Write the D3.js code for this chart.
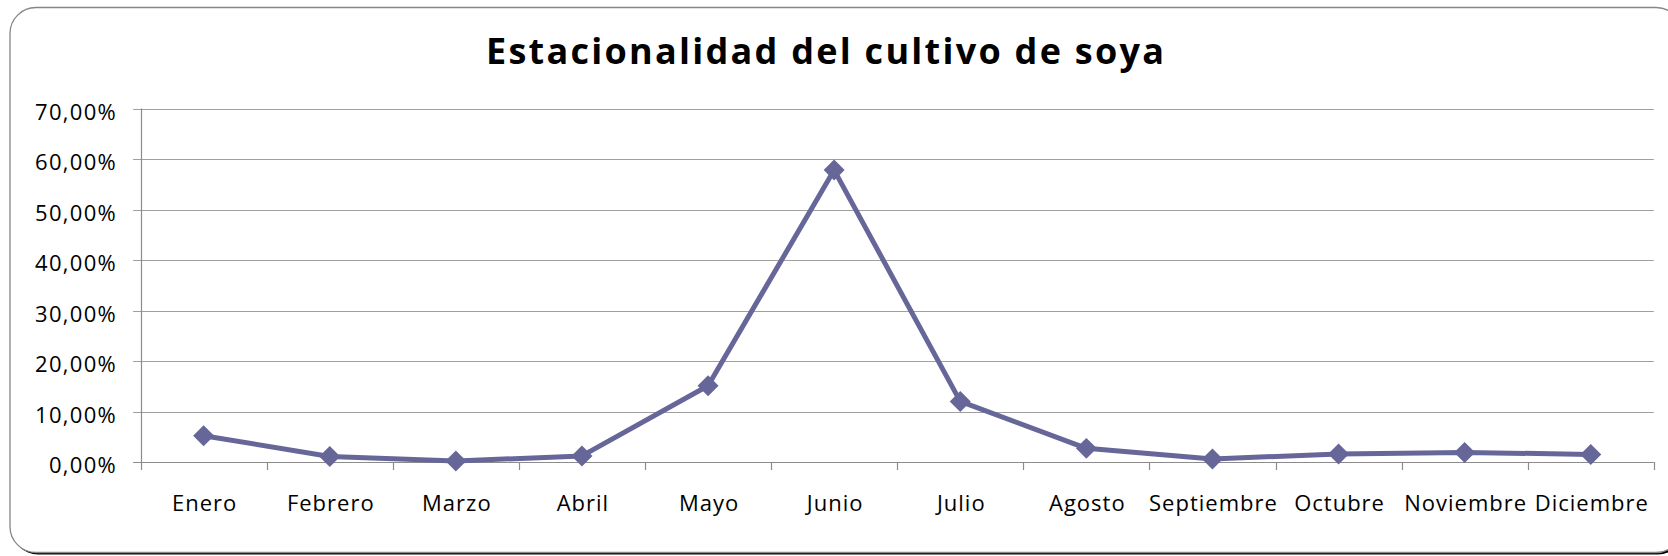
<!DOCTYPE html>
<html>
<head>
<meta charset="utf-8">
<script src="https://cdn.jsdelivr.net/npm/d3@7"></script>
<style>
  html, body { margin: 0; padding: 0; background: #ffffff; }
  svg { display: block; }
</style>
</head>
<body>
<svg id="chart" width="1668" height="556"></svg>
<script>
const title = "Estacionalidad del cultivo de soya";
const months = ["Enero", "Febrero", "Marzo", "Abril", "Mayo", "Junio", "Julio",
                "Agosto", "Septiembre", "Octubre", "Noviembre", "Diciembre"];
const values = [5.2, 1.1, 0.2, 1.2, 15.1, 57.8, 12.0, 2.7, 0.6, 1.6, 1.9, 1.5];
const yTicks = [0, 10, 20, 30, 40, 50, 60, 70];
const yTickLabels = ["0,00%", "10,00%", "20,00%", "30,00%", "40,00%", "50,00%", "60,00%", "70,00%"];

const svg = d3.select("#chart");
const plot = { left: 140.6, right: 1653.8, top: 108.5, bottom: 462 };

// Chart frame with shadow
svg.append("rect")
  .attr("x", 12).attr("y", 9.5).attr("width", 1672).attr("height", 545)
  .attr("rx", 26).attr("ry", 26).attr("fill", "#000");
svg.append("rect")
  .attr("x", 10).attr("y", 7.5).attr("width", 1672).attr("height", 545)
  .attr("rx", 26).attr("ry", 26).attr("fill", "#fff")
  .attr("stroke", "#868686").attr("stroke-width", 1.3);

// Title
svg.append("text")
  .attr("x", 486).attr("y", 64)
  .attr("font-family", "'Open Sans', sans-serif")
  .attr("font-weight", "bold").attr("font-size", 36)
  .attr("textLength", 678).attr("lengthAdjust", "spacing")
  .attr("fill", "#000")
  .text(title);

const x = d3.scaleBand().domain(months).range([plot.left, plot.right]).padding(0);
const y = d3.scaleLinear().domain([0, 70]).range([plot.bottom, plot.top]);

// Gridlines
svg.append("g").selectAll("line").data(yTicks).join("line")
  .attr("x1", plot.left - 7.5).attr("x2", plot.right)
  .attr("y1", d => Math.round(y(d)) + 0.5).attr("y2", d => Math.round(y(d)) + 0.5)
  .attr("stroke", d => d === 0 ? "#8c8c8c" : "#a0a0a0").attr("stroke-width", 1.2);

// Y axis line
svg.append("line")
  .attr("x1", Math.round(plot.left) + 0.5).attr("x2", Math.round(plot.left) + 0.5)
  .attr("y1", plot.top).attr("y2", plot.bottom + 1)
  .attr("stroke", "#8c8c8c").attr("stroke-width", 1.2);

// X axis ticks at band boundaries
const bounds = months.map(m => x(m)).concat([plot.right]);
svg.append("g").selectAll("line").data(bounds).join("line")
  .attr("x1", d => Math.round(d) + 0.5).attr("x2", d => Math.round(d) + 0.5)
  .attr("y1", plot.bottom).attr("y2", plot.bottom + 8)
  .attr("stroke", "#8c8c8c").attr("stroke-width", 1.2);

// Y tick labels
svg.append("g").selectAll("text").data(yTicks).join("text")
  .attr("x", 117).attr("y", d => y(d) + 11)
  .attr("text-anchor", "end")
  .attr("font-family", "'Open Sans', sans-serif").attr("font-size", 22)
  .attr("letter-spacing", 1.3)
  .attr("fill", "#000")
  .text((d, i) => yTickLabels[i]);

// X tick labels
svg.append("g").selectAll("text").data(months).join("text")
  .attr("x", d => x(d) + x.bandwidth() / 2 + 1).attr("y", 511)
  .attr("text-anchor", "middle")
  .attr("font-family", "'Open Sans', sans-serif").attr("font-size", 22)
  .attr("letter-spacing", 1)
  .attr("fill", "#000")
  .text(d => d);

// Line
const line = d3.line()
  .x((d, i) => x(months[i]) + x.bandwidth() / 2)
  .y(d => y(d));
svg.append("path")
  .datum(values)
  .attr("d", line)
  .attr("fill", "none")
  .attr("stroke", "#666699")
  .attr("stroke-width", 5)
  .attr("stroke-linejoin", "round");

// Diamond markers
const sym = d3.symbol().type(d3.symbolSquare).size(220);
svg.append("g").selectAll("path").data(values).join("path")
  .attr("d", sym)
  .attr("transform", (d, i) => `translate(${x(months[i]) + x.bandwidth() / 2},${y(d)}) rotate(45)`)
  .attr("fill", "#666699");
</script>
</body>
</html>
